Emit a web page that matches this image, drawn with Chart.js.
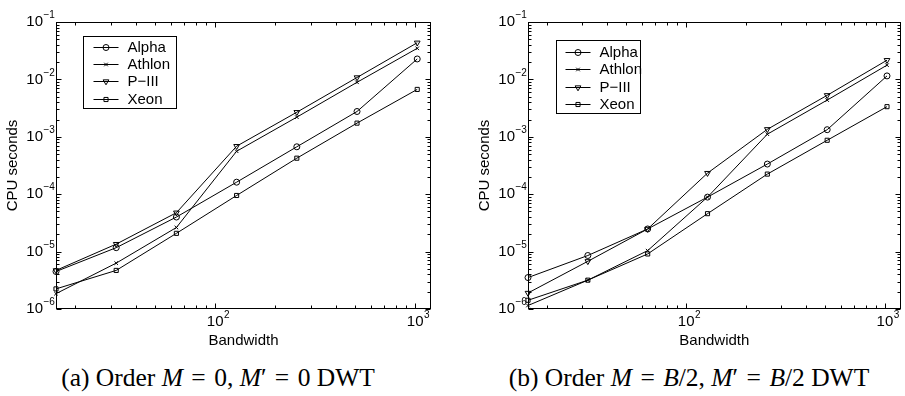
<!DOCTYPE html>
<html><head><meta charset="utf-8">
<script src="https://cdn.jsdelivr.net/npm/chart.js@4"></script>
<style>
body{margin:0;background:#fff;width:905px;height:396px;position:relative;overflow:hidden}
.c{position:absolute;top:0;height:360px}
.cap{position:absolute;top:364px;height:28px;line-height:28px;font-family:"Liberation Serif","Times New Roman",serif;font-size:25.5px;color:#000;text-align:center;white-space:nowrap}
.rel{margin:0 0.08em}
</style></head><body>
<div class="c" style="left:0;width:452px"><canvas id="a"></canvas></div>
<div class="c" style="left:472px;width:433px"><canvas id="b"></canvas></div>
<div class="cap" style="left:0;width:436px">(a) Order <i>M</i> <span class="rel">=</span> 0, <i>M</i>′ <span class="rel">=</span> 0 DWT</div>
<div class="cap" style="left:479px;width:420px">(b) Order <i>M</i> <span class="rel">=</span> <i>B</i>/2, <i>M</i>′ <span class="rel">=</span> <i>B</i>/2 DWT</div>
<script>
const bandwidth = [16, 32, 64, 128, 256, 512, 1024];
const seriesNames = ['Alpha', 'Athlon', 'P\u2212III', 'Xeon'];
// panel (a)
const alphaA  = [4.5e-6, 1.17e-5, 4.0e-5, 1.62e-4, 6.7e-4, 2.76e-3, 2.27e-2];
const athlonA = [1.85e-6, 6.3e-6, 2.63e-5, 5.6e-4, 2.2e-3, 8.9e-3, 3.48e-2];
const p3A     = [4.7e-6, 1.35e-5, 4.76e-5, 6.86e-4, 2.68e-3, 1.08e-2, 4.35e-2];
const xeonA   = [2.24e-6, 4.7e-6, 2.08e-5, 9.5e-5, 4.24e-4, 1.73e-3, 6.69e-3];
// panel (b)
const alphaB  = [3.53e-6, 8.55e-6, 2.48e-5, 8.9e-5, 3.35e-4, 1.33e-3, 1.15e-2];
const athlonB = [1.15e-6, 3.18e-6, 1.04e-5, 8.9e-5, 1.11e-3, 4.36e-3, 1.77e-2];
const p3B     = [1.9e-6, 6.77e-6, 2.48e-5, 2.33e-4, 1.35e-3, 5.28e-3, 2.16e-2];
const xeonB   = [1.42e-6, 3.18e-6, 9.1e-6, 4.58e-5, 2.24e-4, 8.7e-4, 3.35e-3];
const yTicks = [1e-6, 1e-5, 1e-4, 1e-3, 1e-2, 1e-1];
const xTicks = [100, 1000];

function expOf(v){ const e = Math.round(Math.log10(v)); return (e < 0 ? '\u2212' : '') + Math.abs(e); }
const FONT = '"Liberation Sans", Arial, Helvetica, sans-serif';
const markers = [
  {pointStyle:'circle', radius:3, rotation:0},
  {pointStyle:'crossRot', radius:2.5, rotation:0},
  {pointStyle:'triangle', radius:3.3, rotation:180},
  {pointStyle:'rect', radius:2.9, rotation:0}
];

function drawMarker(ctx, m, x, y){
  ctx.save();
  ctx.translate(x, y);
  ctx.beginPath();
  const r = m.radius;
  if (m.pointStyle === 'circle') { ctx.arc(0,0,r,0,Math.PI*2); }
  else if (m.pointStyle === 'crossRot') { const d=r*Math.SQRT1_2; ctx.moveTo(-d,-d);ctx.lineTo(d,d);ctx.moveTo(-d,d);ctx.lineTo(d,-d); }
  else if (m.pointStyle === 'triangle') { ctx.rotate(Math.PI); ctx.moveTo(0,-r); ctx.lineTo(r*0.866,r*0.5); ctx.lineTo(-r*0.866,r*0.5); ctx.closePath(); }
  else if (m.pointStyle === 'rect') { const s=r*Math.SQRT1_2; ctx.rect(-s,-s,2*s,2*s); }
  ctx.stroke();
  ctx.restore();
}

const Y_PAD = 13;
const framePlugin = {
  id:'frame',
  afterDatasetsDraw(chart){
    const {ctx, chartArea:a, scales:{x, y}} = chart;
    ctx.save();
    ctx.strokeStyle = '#000'; ctx.lineWidth = 1;
    const L = Math.round(a.left)+0.5, R = Math.round(a.right)-0.5, T = Math.round(a.top)+0.5, B = Math.round(a.bottom)-0.5;
    ctx.beginPath();
    for (let d = 10; d <= 1000; d *= 10) for (let k = 1; k <= 9; k++) {
      const v = k*d; if (v < x.min || v > x.max) continue;
      const len = k === 1 ? 5 : 3;
      const px = Math.round(x.getPixelForValue(v))+0.5;
      ctx.moveTo(px, B); ctx.lineTo(px, B-len);
      ctx.moveTo(px, T); ctx.lineTo(px, T+len);
    }
    for (let d = 1e-6; d <= 0.11; d *= 10) for (let k = 1; k <= 9; k++) {
      const v = k*d; if (v < y.min*0.999 || v > y.max*1.001) continue;
      const len = k === 1 ? 5 : 3;
      const py = Math.round(y.getPixelForValue(v))+0.5;
      ctx.moveTo(L, py); ctx.lineTo(L+len, py);
      ctx.moveTo(R, py); ctx.lineTo(R-len, py);
    }
    ctx.stroke();
    ctx.strokeRect(L, T, R-L, B-T);
    // exponents of the "10" tick labels
    ctx.fillStyle = '#000';
    ctx.font = '10px ' + FONT;
    ctx.textBaseline = 'middle'; ctx.textAlign = 'left';
    y.ticks.forEach(t => {
      const py = y.getPixelForValue(t.value);
      ctx.fillText(expOf(t.value), y.right - Y_PAD + 0.5, py - 6.5);
    });
    x.ticks.forEach(t => {
      const px = x.getPixelForValue(t.value);
      ctx.fillText(expOf(t.value), px + 8.8, a.bottom + 6);
    });
    ctx.restore();
  },
  afterDraw(chart){
    const lg = chart.options.plugins.frame.legend;
    const {ctx, chartArea:a} = chart;
    const bx = Math.round(a.left + lg.x)+0.5, by = Math.round(a.top + lg.y)+0.5;
    ctx.save();
    ctx.fillStyle = '#fff'; ctx.strokeStyle = '#000'; ctx.lineWidth = 1;
    ctx.fillRect(bx, by, lg.w, lg.h);
    ctx.strokeRect(bx, by, lg.w, lg.h);
    ctx.font = '15px ' + FONT; ctx.fillStyle = '#000'; ctx.textBaseline = 'middle'; ctx.textAlign = 'left';
    chart.data.datasets.forEach((ds, i) => {
      const yy = Math.round(by + lg.first + i*lg.step) + 0.5;
      ctx.beginPath(); ctx.moveTo(bx+lg.lineX, yy); ctx.lineTo(bx+lg.lineX+25, yy); ctx.stroke();
      drawMarker(ctx, markers[i], bx+lg.lineX+12.5, yy);
      ctx.fillText(ds.label, bx+lg.textX, yy+0.5);
    });
    ctx.restore();
  }
};

function makeChart(id, series, padRight, legend){
  const datasets = series.map((vals, i) => ({
    label: seriesNames[i],
    data: bandwidth.map((b, j) => ({x:b, y:vals[j]})),
    borderColor:'#000', borderWidth:1, backgroundColor:'rgba(0,0,0,0)',
    pointBorderColor:'#000', pointBackgroundColor:'rgba(0,0,0,0)', pointBorderWidth:1,
    pointStyle: markers[i].pointStyle, pointRadius: markers[i].radius, pointRotation: markers[i].rotation,
    pointHoverRadius: markers[i].radius, tension:0, clip:false
  }));
  return new Chart(document.getElementById(id), {
    type:'line',
    data:{datasets},
    plugins:[framePlugin],
    options:{
      responsive:true, maintainAspectRatio:false, animation:false,
      layout:{padding:{top:14, right:padRight, left:0, bottom:0}},
      plugins:{legend:{display:false}, tooltip:{enabled:false}, frame:{legend}},
      scales:{
        x:{type:'logarithmic', min:16, max:1200,
          grid:{display:false, drawTicks:false}, border:{display:false},
          afterBuildTicks(s){ s.ticks = xTicks.map(v => ({value:v})); },
          afterFit(s){ s.height = 51; },
          ticks:{color:'#000', font:{family:FONT, size:15}, padding:4, maxRotation:0, autoSkip:false,
            callback:() => '10'},
          title:{display:true, text:'Bandwidth', color:'#000', font:{family:FONT, size:15}, padding:{top:0, bottom:10}}
        },
        y:{type:'logarithmic', min:1e-6, max:1e-1,
          grid:{display:false, drawTicks:false}, border:{display:false},
          afterBuildTicks(s){ s.ticks = yTicks.map(v => ({value:v})); },
          afterFit(s){ s.width = 56; },
          ticks:{color:'#000', font:{family:FONT, size:15}, padding:Y_PAD, autoSkip:false,
            callback:() => '10'},
          title:{display:true, text:'CPU seconds', color:'#000', font:{family:FONT, size:15}, padding:{top:4, bottom:0}}
        }
      }
    }
  });
}

makeChart('a', [alphaA, athlonA, p3A, xeonA], 21, {x:27, y:14, w:93, h:72, first:10, step:17.4, lineX:10, textX:44});
makeChart('b', [alphaB, athlonB, p3B, xeonB], 4, {x:28, y:18, w:84, h:73, first:11, step:17.6, lineX:9, textX:43});
</script>
</body></html>
